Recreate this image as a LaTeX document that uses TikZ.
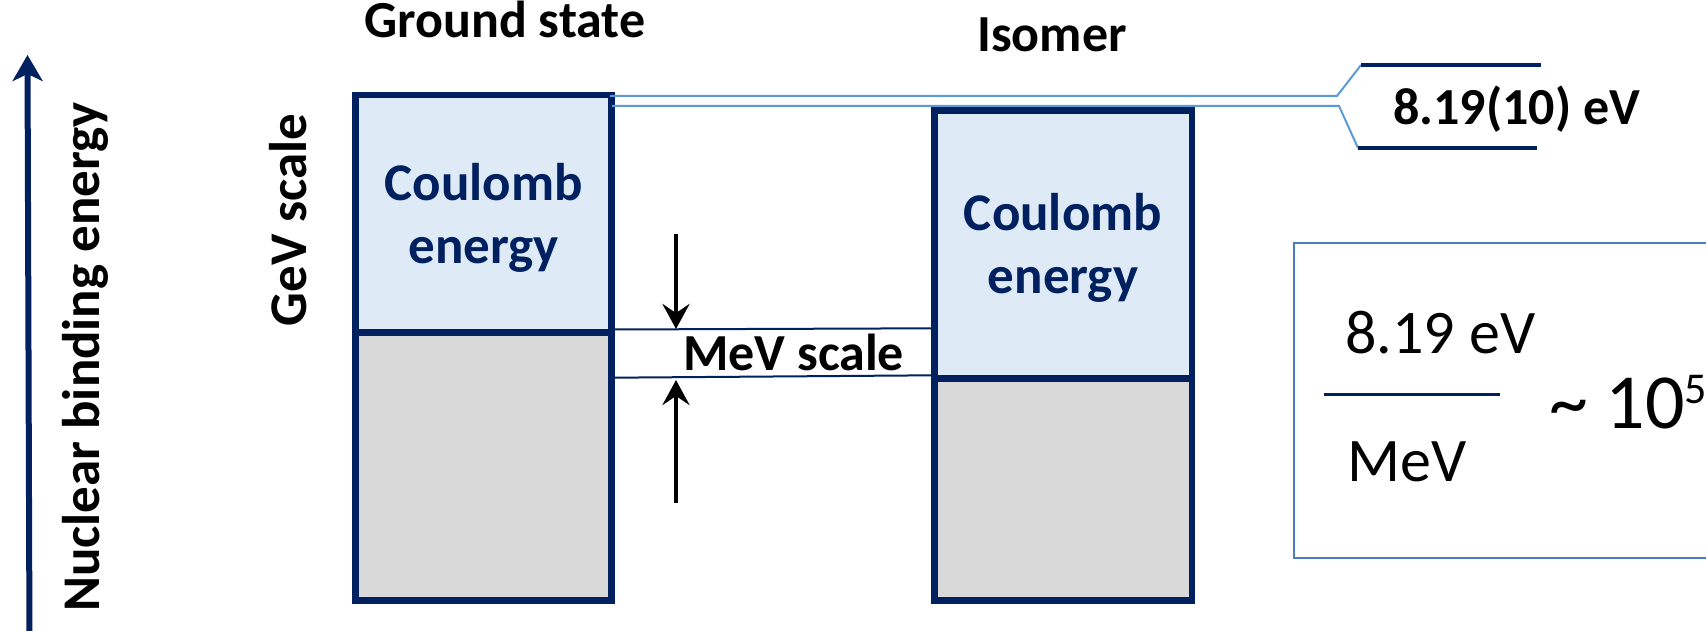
\documentclass[tikz,border=0pt]{standalone}
\usepackage{fontspec}
\setmainfont{Carlito}
\usetikzlibrary{arrows.meta}
\definecolor{navy}{HTML}{002060}
\definecolor{cfill}{HTML}{DEEBF7}
\definecolor{gfill}{HTML}{D9D9D9}
\definecolor{thinblue}{HTML}{5B9BD5}
\definecolor{boxblue}{HTML}{4A7EBB}
\begin{document}
\begin{tikzpicture}[x=1pt,y=-1pt,
  lbl/.style={font=\fontsize{52}{62}\selectfont\bfseries, inner sep=0pt, text=black},
  ctext/.style={font=\fontsize{53}{63}\selectfont\bfseries, inner sep=0pt, text=navy},
  rtext/.style={font=\fontsize{62}{72}\selectfont, inner sep=0pt, text=black},
  cbox/.style={draw=navy, line width=6.5pt, fill=cfill, inner sep=0pt},
  gbox/.style={draw=navy, line width=6.5pt, fill=gfill, inner sep=0pt},
  thinline/.style={draw=thinblue, line width=2pt},
  darkline/.style={draw=navy, line width=3.5pt},
  mevline/.style={draw=navy, line width=2pt},
  scalearrow/.style={draw=black, line width=4.5pt, -{Stealth[length=25pt,width=27pt,inset=9pt]}}
]
\clip (0,0) rectangle (1706,631);
\fill[white] (0,0) rectangle (1706,631);

% energy axis
\coordinate (axb) at (29.5,645);
\coordinate (axt) at (27.5,55);
\draw[navy, line width=6pt, -{Stealth[length=26pt,width=30pt,inset=7pt]}] (axb) -- (axt);
\node[font=\fontsize{53}{62}\selectfont\bfseries, inner sep=0pt, rotate=90, anchor=base] (nbe) at (99,357) {Nuclear binding energy};
\node[font=\fontsize{53}{62}\selectfont\bfseries, inner sep=0pt, rotate=90, anchor=base] (gev) at (306,220) {GeV scale};

% titles
\node[lbl, anchor=base] (gs) at (505,38) {Ground state};
\node[lbl, anchor=base] (iso) at (1052,52) {Isomer};

% ground state box
\node[cbox, minimum width=256pt, minimum height=237.5pt] (gC) at (483.5,213.75) {};
\node[gbox, minimum width=256pt, minimum height=268pt] (gG) at (483.5,466.5) {};
\node[ctext, anchor=base] (gc1) at (483.5,201) {Coulomb};
\node[ctext, anchor=base] (gc2) at (483.5,263) {energy};

% isomer box
\node[cbox, minimum width=257.5pt, minimum height=268.25pt] (iC) at (1063,244.4) {};
\node[gbox, minimum width=257.5pt, minimum height=222.25pt] (iG) at (1063,489.6) {};
\node[ctext, anchor=base] (ic1) at (1063,231) {Coulomb};
\node[ctext, anchor=base] (ic2) at (1063,294) {energy};

% MeV scale lines
\coordinate (m1a) at (611.5,329.5);
\coordinate (m1b) at (934.5,328.3);
\coordinate (m2a) at (611.5,377.7);
\coordinate (m2b) at (934.5,375.3);
\draw[mevline] (m1a) -- (m1b);
\draw[mevline] (m2a) -- (m2b);
\node[lbl, anchor=base west] (mev) at (683,370) {MeV scale};

% arrows
\coordinate (da) at (676,234);
\coordinate (db) at (676,329);
\coordinate (ua) at (676,503);
\coordinate (ub) at (676,380);
\draw[scalearrow] (da) -- (db);
\draw[scalearrow] (ua) -- (ub);

% 8.19 eV bracket
\coordinate (t0) at (610,96);
\coordinate (t1) at (1337,96);
\coordinate (t2) at (1361,65);
\coordinate (t3) at (1541,65);
\coordinate (b0) at (612,106);
\coordinate (b1) at (1339,106);
\coordinate (b2) at (1358,148);
\coordinate (b3) at (1537,148);
\draw[thinline] (t0) -- (t1) -- (t2);
\draw[thinline] (b0) -- (b1) -- (b2);
\draw[darkline] (t2) -- (t3);
\draw[darkline] (b2) -- (b3);
\node[lbl, anchor=base west] (val) at (1393,125) {8.19(10) eV};

% ratio box
\node[draw=boxblue, line width=2.5pt, inner sep=0pt, minimum width=430pt, minimum height=315pt] (ratio) at (1509,400.5) {};
\node[rtext, anchor=base west] (num) at (1345,353) {8.19 eV};
\node[rtext, anchor=base west] (den) at (1347,481) {MeV};
\coordinate (f1) at (1324,394);
\coordinate (f2) at (1500,394);
\draw[navy, line width=3pt] (f1) -- (f2);
\node[font=\fontsize{78}{90}\selectfont, inner sep=0pt, anchor=base west] (approx) at (1549,428) {\textasciitilde\ 10\raisebox{25pt}{\fontsize{44}{44}\selectfont 5}};
\end{tikzpicture}
\end{document}
